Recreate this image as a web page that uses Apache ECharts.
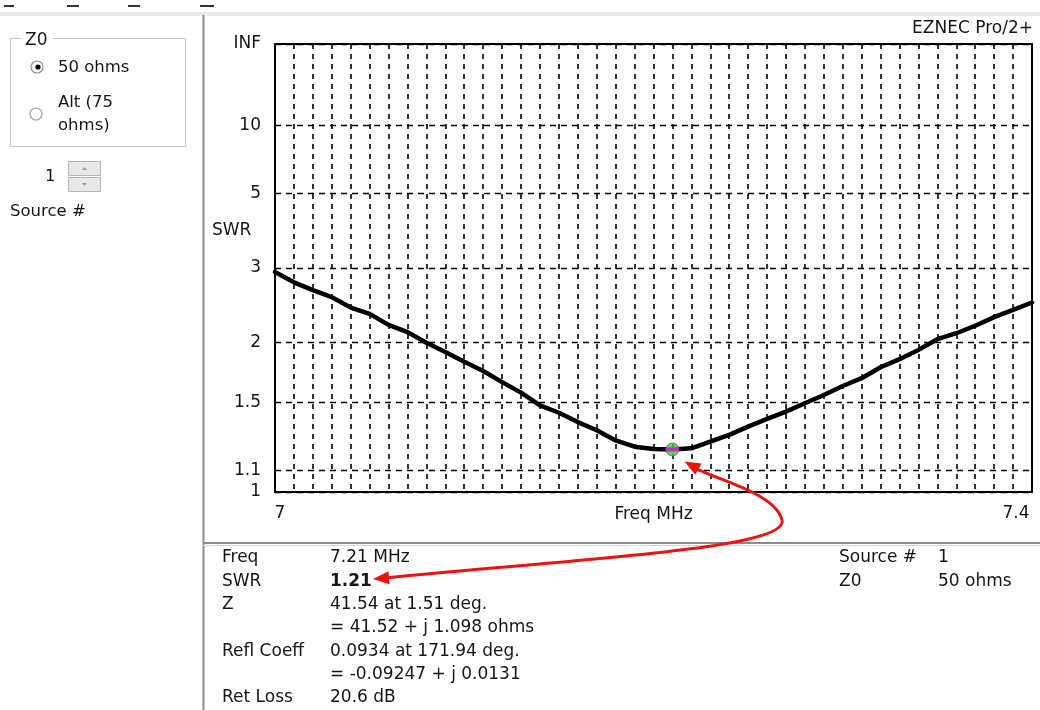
<!DOCTYPE html>
<html>
<head>
<meta charset="utf-8">
<script src="https://cdn.jsdelivr.net/npm/echarts@6/dist/echarts.min.js"></script>
<style>
  html, body { margin: 0; padding: 0; background: #fff; }
  #chart { width: 1040px; height: 710px; }
</style>
</head>
<body>
<div id="chart"></div>
<script>
// Sweep frequencies (MHz) and computed SWR at each step
const freqMHz = [7.00, 7.01, 7.02, 7.03, 7.04, 7.05, 7.06, 7.07, 7.08, 7.09,
                 7.10, 7.11, 7.12, 7.13, 7.14, 7.15, 7.16, 7.17, 7.18, 7.19,
                 7.20, 7.21, 7.22, 7.23, 7.24, 7.25, 7.26, 7.27, 7.28, 7.29,
                 7.30, 7.31, 7.32, 7.33, 7.34, 7.35, 7.36, 7.37, 7.38, 7.39, 7.40];
const swr = [2.93, 2.76, 2.64, 2.54, 2.40, 2.32, 2.19, 2.11, 2.00, 1.91,
             1.82, 1.74, 1.65, 1.57, 1.48, 1.43, 1.37, 1.32, 1.26, 1.225,
             1.212, 1.21, 1.216, 1.253, 1.292, 1.342, 1.39, 1.437, 1.494, 1.553,
             1.62, 1.681, 1.772, 1.843, 1.929, 2.035, 2.098, 2.18, 2.28, 2.37, 2.466];

// SWR axis ticks (scale is linear in reflection coefficient)
const swrTickValues = [1, 1.1, 1.5, 2, 3, 5, 10, Infinity];
const swrTickLabels = ['1', '1.1', '1.5', '2', '3', '5', '10', 'INF'];
const freqTickValues = [7, 7.4];
const freqTickLabels = ['7', '7.4'];

// Cursor point and its readout
const markerFreq = 7.21;
const markerSwr = 1.21;
const readoutLabels = ['Freq', 'SWR', 'Z', '', 'Refl Coeff', '', 'Ret Loss'];
const readoutValues = ['7.21 MHz', '1.21', '41.54 at 1.51 deg.', '= 41.52 + j 1.098 ohms',
                       '0.0934 at 171.94 deg.', '= -0.09247 + j 0.0131', '20.6 dB'];
const sourceLabels = ['Source #', 'Z0'];
const sourceValues = ['1', '50 ohms'];

const FONT = 'DejaVu Sans';
const INK = '#151515';

// SWR -> |reflection coefficient|
function rho(s) { return isFinite(s) ? (s - 1) / (s + 1) : 1; }

const rhoTicks = swrTickValues.map(rho);

const chart = echarts.init(document.getElementById('chart'), null, { renderer: 'canvas' });

const option = {
  animation: false,
  backgroundColor: '#fff',
  grid: {
    left: 275, right: 8, top: 44, bottom: 218,
    show: true, borderColor: '#000', borderWidth: 2
  },
  xAxis: {
    type: 'value', min: 7, max: 7.4, interval: 0.01,
    name: 'Freq MHz', nameLocation: 'middle', nameGap: 14, nameMoveOverlap: false,
    nameTextStyle: { fontFamily: FONT, fontSize: 17, color: INK, verticalAlign: 'top' },
    axisLine: { show: false },
    axisTick: { show: false },
    axisLabel: {
      customValues: freqTickValues,
      margin: 13,
      formatter: function (v) {
        const i = freqTickValues.findIndex(t => Math.abs(t - v) < 1e-9);
        return i === 0 ? '{l|' + freqTickLabels[i] + '}' : '{r|' + freqTickLabels[i] + '}';
      },
      rich: {
        l: { fontFamily: FONT, fontSize: 17, color: INK, padding: [0, 0, 0, 10] },
        r: { fontFamily: FONT, fontSize: 17, color: INK, padding: [0, 32, 0, 0] }
      }
    },
    splitLine: { show: true, lineStyle: { color: '#000', width: 1.6, type: [5, 5] } }
  },
  yAxis: {
    type: 'value', min: 0, max: 1,
    axisLine: { show: false },
    axisTick: { show: false, customValues: rhoTicks },
    axisLabel: {
      customValues: rhoTicks,
      margin: 14,
      fontFamily: FONT, fontSize: 17, color: INK,
      formatter: function (v) {
        const i = rhoTicks.findIndex(t => Math.abs(t - v) < 1e-6);
        return i >= 0 ? swrTickLabels[i] : '';
      }
    },
    splitLine: { show: true, lineStyle: { color: '#000', width: 1.4, type: [6, 5] } }
  },
  series: [
    {
      type: 'line',
      data: freqMHz.map((f, i) => [f, rho(swr[i])]),
      showSymbol: false, symbol: 'none',
      lineStyle: { color: '#000', width: 4.5, join: 'round', cap: 'round' },
      z: 3
    },
    {
      type: 'scatter',
      data: [[markerFreq, rho(markerSwr)]],
      symbol: 'circle', symbolSize: 13,
      itemStyle: { color: '#22dd22', borderColor: '#ff00ff', borderWidth: 1 },
      z: 5, silent: true
    },
    {
      type: 'scatter',
      data: [[markerFreq, rho(markerSwr)]],
      symbol: 'rect', symbolSize: [11, 3],
      itemStyle: { color: '#ff00ff' },
      z: 6, silent: true
    }
  ]
};

chart.setOption(option);

// ---- surrounding panel: controls, readout and annotation arrow ----
function txt(x, y, text, opts) {
  return Object.assign({
    type: 'text', x: x, y: y, z: 20,
    style: Object.assign({
      text: text, fontFamily: FONT, fontSize: 17, fill: INK,
      align: 'left', verticalAlign: 'middle'
    }, (opts && opts.style) || {})
  }, opts && opts.el || {});
}

const g = [];

// strip along the top edge
g.push({ type: 'rect', shape: { x: 0, y: 12, width: 1040, height: 4 }, style: { fill: '#e9e9e9' }, z: 10 });
[[4, 10], [67, 12], [128, 12], [200, 14]].forEach(d => {
  g.push({ type: 'rect', shape: { x: d[0], y: 5, width: d[1], height: 2 }, style: { fill: '#333' }, z: 10 });
});

// plot window frame
g.push({ type: 'line', shape: { x1: 203.5, y1: 15, x2: 203.5, y2: 710 }, style: { stroke: '#8c8c8c', lineWidth: 2 }, z: 10 });
g.push({ type: 'line', shape: { x1: 203, y1: 543, x2: 1040, y2: 543 }, style: { stroke: '#8c8c8c', lineWidth: 2 }, z: 10 });
g.push({ type: 'line', shape: { x1: 203, y1: 545.5, x2: 1040, y2: 545.5 }, style: { stroke: '#d4d4d4', lineWidth: 1 }, z: 10 });

// Z0 group box
g.push({ type: 'rect', shape: { x: 10.5, y: 38.5, width: 175, height: 108 }, style: { fill: 'none', stroke: '#c4c4c4', lineWidth: 1 }, z: 10 });
g.push({ type: 'rect', shape: { x: 22, y: 32, width: 31, height: 14 }, style: { fill: '#fff' }, z: 11 });
g.push(txt(25, 41, 'Z0'));

// radio buttons
g.push({ type: 'circle', shape: { cx: 37, cy: 67, r: 6 }, style: { fill: '#fff', stroke: '#909090', lineWidth: 1.2 }, z: 12 });
g.push({ type: 'circle', shape: { cx: 38, cy: 67, r: 2.6 }, style: { fill: '#000' }, z: 13 });
g.push(txt(58, 68, '50 ohms', { style: { fontSize: 16.5 } }));
g.push({ type: 'circle', shape: { cx: 36, cy: 114, r: 6 }, style: { fill: '#fff', stroke: '#a0a0a0', lineWidth: 1.2 }, z: 12 });
g.push(txt(58, 103, 'Alt (75', { style: { fontSize: 16.5 } }));
g.push(txt(58, 126, 'ohms)', { style: { fontSize: 16.5 } }));

// source spinner
g.push(txt(45, 177, '1', { style: { fontSize: 16.5 } }));
g.push({ type: 'rect', shape: { x: 68.5, y: 161.5, width: 32, height: 14 }, style: { fill: '#e8e8e8', stroke: '#b4b4b4', lineWidth: 1 }, z: 10 });
g.push({ type: 'rect', shape: { x: 68.5, y: 177.5, width: 32, height: 14 }, style: { fill: '#e8e8e8', stroke: '#b4b4b4', lineWidth: 1 }, z: 10 });
g.push({ type: 'polygon', shape: { points: [[82, 170], [84.5, 167], [87, 170]] }, style: { fill: '#999' }, z: 11 });
g.push({ type: 'polygon', shape: { points: [[82, 183], [84.5, 186], [87, 183]] }, style: { fill: '#999' }, z: 11 });
g.push(txt(10, 212, 'Source #', { style: { fontSize: 16.5 } }));

// chart captions
g.push(txt(1033, 29, 'EZNEC Pro/2+', { style: { align: 'right' } }));
g.push(txt(212, 231, 'SWR'));

// readout table
readoutLabels.forEach((lab, i) => {
  const y = 558 + i * 23.3;
  if (lab) g.push(txt(222, y, lab));
  g.push(txt(330, y, readoutValues[i], { style: { fontWeight: i === 1 ? 'bold' : 'normal' } }));
});
sourceLabels.forEach((lab, i) => {
  const y = 558 + i * 23.3;
  g.push(txt(839, y, lab));
  g.push(txt(938, y, sourceValues[i]));
});

// red arrow linking the cursor point to its SWR readout
const p = chart.convertToPixel({ gridIndex: 0 }, [markerFreq, rho(markerSwr)]);
const RED = '#ee1111';
const tipA = [373, 579];
const tipB = [p[0] + 12, p[1] + 12];
const endB = [tipB[0] + 13, tipB[1] + 8];
function head(tip, from, len, half) {
  const dx = tip[0] - from[0], dy = tip[1] - from[1];
  const L = Math.hypot(dx, dy), ux = dx / L, uy = dy / L;
  const bx = tip[0] - ux * len, by = tip[1] - uy * len;
  return [tip, [bx - uy * half, by + ux * half], [bx + uy * half, by - ux * half]];
}
g.push({ type: 'bezierCurve', shape: { x1: 386, y1: 578, cpx1: 560, cpy1: 560, cpx2: 790, cpy2: 550, x2: 782, y2: 520 },
         style: { stroke: RED, lineWidth: 3, fill: 'none' }, z: 30 });
g.push({ type: 'bezierCurve', shape: { x1: 782, y1: 520, cpx1: 776, cpy1: 495, cpx2: 725, cpy2: 482, x2: endB[0], y2: endB[1] },
         style: { stroke: RED, lineWidth: 3, fill: 'none' }, z: 30 });
g.push({ type: 'polygon', shape: { points: head(tipA, [400, 577], 16, 6.5) }, style: { fill: RED }, z: 31 });
g.push({ type: 'polygon', shape: { points: head(tipB, [tipB[0] + 20, tipB[1] + 11], 16, 6.5) }, style: { fill: RED }, z: 31 });

chart.setOption({ graphic: { elements: g } });
</script>
</body>
</html>
